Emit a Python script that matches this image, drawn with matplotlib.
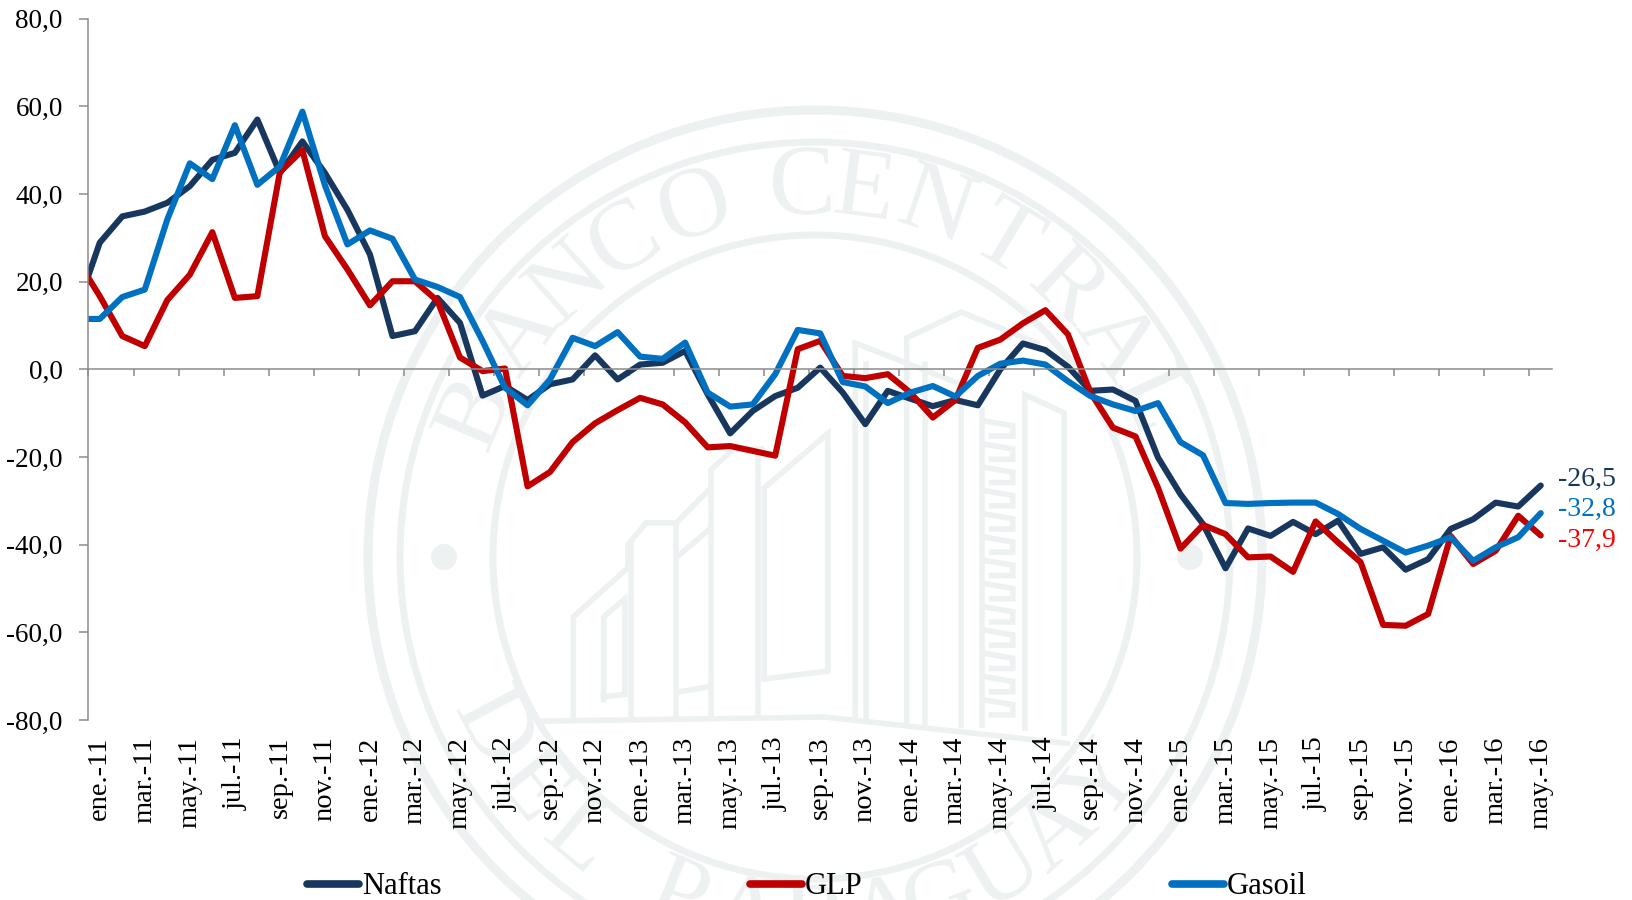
import numpy as np
import matplotlib
matplotlib.use("Agg")
import matplotlib.pyplot as plt
from matplotlib.patches import Circle
from matplotlib.ticker import FuncFormatter

plt.rcParams['font.family'] = ['Liberation Serif', 'DejaVu Serif']

# first value of each series is dic-10, only the part up to the axis shows
naftas = [14, 28.9, 34.9, 36, 38, 41.8, 47.8, 49.4, 57, 44.8, 52, 44.8, 36.4, 26.2, 7.6, 8.7, 16.3, 10.6, -6, -3.8,
          -7, -3.4, -2.3, 3.2, -2.3, 1.1, 1.5, 4.2, -5.7, -14.6, -9.5, -6.1, -4.2, 0.4, -5.3, -12.5, -4.9, -6.7, -8.4, -7,
          -8.2, 0, 5.9, 4.4, 0.6, -4.9, -4.6, -7.2, -20.1, -28.5, -35.3, -45.4, -36.3, -38, -34.8, -37.6, -34.5, -42.1, -40.6, -45.7,
          -43.3, -36.4, -34.2, -30.4, -31.3, -26.5]
glp = [25, 16.7, 7.6, 5.3, 15.8, 21.6, 31.3, 16.3, 16.7, 45, 50, 30.4, 22.8, 14.6, 20.1, 20.1, 15.6, 2.7, -0.4, 0.2,
       -26.7, -23.4, -16.6, -12.3, -9.3, -6.5, -8, -12.1, -17.8, -17.5, -18.6, -19.7, 4.6, 6.5, -1.5, -2, -1.1, -5.3, -11, -7,
       4.9, 6.8, 10.5, 13.5, 8, -5.3, -13.3, -15.3, -27, -40.9, -35.5, -37.6, -42.9, -42.7, -46.2, -34.7, -39.5, -44, -58.3, -58.5,
       -55.8, -38, -44.4, -41.4, -33.4, -37.9]
gasoil = [11.5, 11.5, 16.5, 18.2, 34.2, 47, 43.4, 55.7, 42.1, 46.3, 58.8, 42, 28.5, 31.7, 29.8, 20.5, 18.8, 16.5, 6.5, -4.2,
          -8.2, -2.3, 7.2, 5.3, 8.5, 2.9, 2.4, 6.1, -5.3, -8.5, -8, -1.1, 9, 8.2, -2.9, -3.9, -7.7, -5.3, -3.8, -6.2,
          -1.5, 1.3, 2, 1.1, -2.7, -6.1, -8, -9.5, -7.7, -16.6, -19.6, -30.5, -30.7, -30.5, -30.4, -30.4, -33, -36.4, -39.1, -41.8,
          -40.2, -38.3, -43.7, -40.6, -38.3, -32.8]
month_names = ["ene.", "feb.", "mar.", "abr.", "may.", "jun.", "jul.", "ago.", "sep.", "oct.", "nov.", "dic."]
years = ["11", "12", "13", "14", "15", "16"]
y_ticks = [-80, -60, -40, -20, 0, 20, 40, 60, 80]

NAVY = "#17375E"
RED = "#C00000"
BLUE = "#0070C0"
SEAL = "#EDF1F1"
GREY = "#8C8C8C"

W, H = 1633, 900
months = [f"{m}-{y}" for y in years for m in month_names][:65]
x = np.arange(-1, 65)

fig = plt.figure(figsize=(W / 100, H / 100), dpi=100)

# watermark seal, in pixels of the figure
seal = fig.add_axes([0, 0, 1, 1], zorder=0)
seal.set_xlim(0, W)
seal.set_ylim(H, 0)
seal.axis("off")
cx, cy = 815, 557
for r, lw in [(447, 6.5), (415, 5), (322, 5)]:
    seal.add_patch(Circle((cx, cy), r, fill=False, ec=SEAL, lw=lw))
for dot_x in (444, 1190):
    seal.add_patch(Circle((dot_x, cy), 13, fc=SEAL, ec="none"))

top_text = list(zip("BANCOCENTRAL", [-67, -53, -42, -31, -19, -2, 7.5, 19, 31, 43, 54.5, 65]))
bottom_text = list(zip("DELPARAGUAY", [-62, -51, -40, -22, -11, 0, 11, 20, 31, 41.5, 52]))
for ch, a in top_text:
    t = np.radians(a)
    seal.text(cx + 368 * np.sin(t), cy - 368 * np.cos(t), ch, rotation=-a, color=SEAL, fontsize=72,
              ha="center", va="center", rotation_mode="anchor")
for ch, a in bottom_text:
    t = np.radians(a)
    seal.text(cx + 368 * np.sin(t), cy + 368 * np.cos(t), ch, rotation=a, color=SEAL, fontsize=72,
              ha="center", va="center", rotation_mode="anchor")


def zoom_px(points):
    # outlines were traced on a crop of the seal
    pts = np.array(points, dtype=float)
    return pts[:, 0] / 1.65 + 340, pts[:, 1] / 1.936 + 90


building = [
    [(385, 1210), (385, 1020), (475, 925), (475, 880), (505, 838), (555, 838), (612, 770), (612, 735), (650, 695), (695, 695)],
    [(435, 1180), (435, 1020), (470, 985), (470, 1170), (435, 1175)],
    [(480, 1210), (480, 880)],
    [(555, 838), (555, 1210)],
    [(560, 900), (610, 850)],
    [(560, 1165), (610, 1155)],
    [(612, 770), (612, 1210)],
    [(690, 700), (690, 1210)],
    [(700, 1140), (700, 770), (805, 665), (805, 1125), (700, 1140)],
    [(850, 1220), (850, 490), (1025, 570), (1025, 1230)],
    [(868, 1220), (868, 530)],
    [(935, 1225), (935, 480), (1025, 430), (1150, 490)],
    [(965, 1225), (965, 530)],
    [(1130, 1235), (1130, 590), (1195, 625), (1195, 1245)],
    [(1060, 1230), (1060, 620)],
    [(330, 1222), (800, 1214), (1200, 1265)],
]
for y0 in range(640, 1220, 45):
    building.append([(1060, y0), (1110, y0 + 10), (1110, y0 + 30), (1075, y0 + 30)])
for part in building:
    px, py = zoom_px(part)
    seal.plot(px, py, color=SEAL, lw=4, solid_joinstyle="miter")

# chart
ax = fig.add_axes([88.5 / W, 1 - 720 / H, (1552 - 88.5) / W, (720 - 18.7) / H], zorder=1)
ax.patch.set_alpha(0)
ax.plot(x, naftas, color=NAVY, lw=4.4, label="Naftas", solid_capstyle="round", solid_joinstyle="round")
ax.plot(x, glp, color=RED, lw=4.4, label="GLP", solid_capstyle="round", solid_joinstyle="round")
ax.plot(x, gasoil, color=BLUE, lw=4.4, label="Gasoil", solid_capstyle="round", solid_joinstyle="round")
ax.set_xlim(-0.5, 64.5)
ax.set_ylim(-80, 80)

ax.spines["top"].set_visible(False)
ax.spines["right"].set_visible(False)
ax.spines["bottom"].set_position(("data", 0))
ax.spines["left"].set_color(GREY)
ax.spines["bottom"].set_color(GREY)
ax.spines["left"].set_linewidth(1.1)
ax.spines["bottom"].set_linewidth(1.1)

ax.set_yticks(y_ticks)
ax.yaxis.set_major_formatter(FuncFormatter(lambda v, _: f"{v:.1f}".replace(".", ",")))
ax.tick_params(axis="y", length=6.5, width=1.1, color=GREY, pad=12, labelsize=19.5)
ax.set_xticks(np.arange(-0.5, 65, 2))
ax.tick_params(axis="x", length=5, width=1.1, color=GREY, labelbottom=False)

labels = ax.secondary_xaxis("bottom")
labels.set_xticks(np.arange(0, 65, 2), months[::2], rotation=90, fontsize=20.5)
labels.tick_params(axis="x", length=0, pad=12)
labels.spines["bottom"].set_visible(False)

# values at the end of the lines
for vals, col, dy in [(naftas, NAVY, 4.5), (gasoil, BLUE, 2.6), (glp, "#FF0000", -3.7)]:
    ax.annotate(f"{vals[-1]:.1f}".replace(".", ","), (x[-1], vals[-1]), xytext=(12.5, dy), textcoords="offset points",
                color=col, fontsize=20, va="center", ha="left", annotation_clip=False)

leg = fig.legend(loc="center", bbox_to_anchor=(0.494, 1 - 887 / H), ncol=3, frameon=False, fontsize=22,
                 handlelength=1.7, handletextpad=0.1, columnspacing=10.1, borderpad=0)
for line in leg.get_lines():
    line.set_linewidth(5.5)

fig.savefig("out.png", dpi=100)
